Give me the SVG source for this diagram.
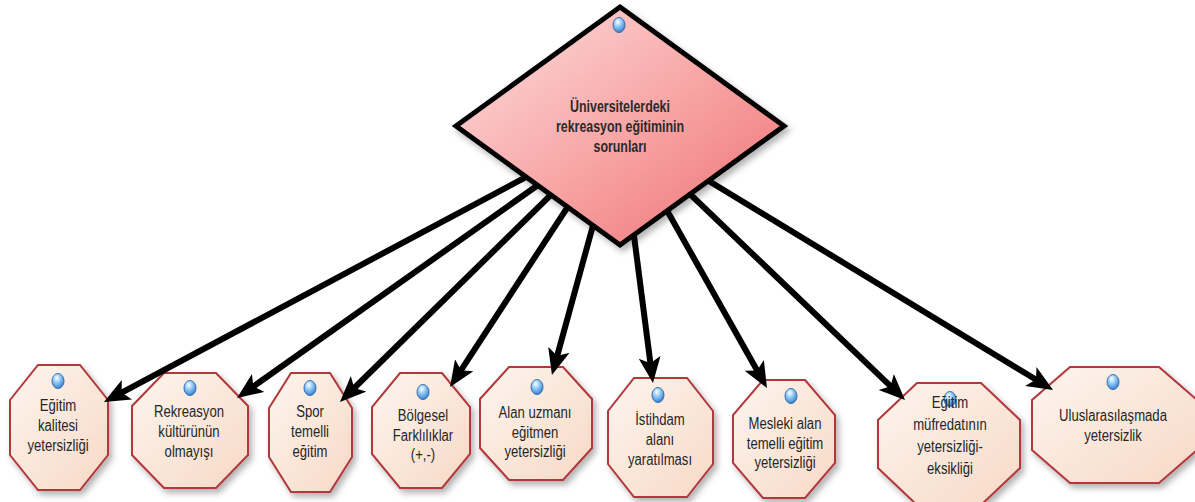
<svg xmlns="http://www.w3.org/2000/svg" width="1195" height="502" viewBox="0 0 1195 502">
<style>
.oct{fill:url(#octFill);stroke:#b2373a;stroke-width:2;filter:url(#shadow)}
.lbl{font-family:"Liberation Sans",Arial,sans-serif;font-size:16px;fill:#262626;text-anchor:middle}
.main{font-weight:bold;fill:#2a2a2a}
.dot{fill:url(#dotFill);stroke:#2c63a8;stroke-width:0.9}
.conn{stroke:#000;stroke-width:6;fill:none;marker-end:url(#arrow)}
</style>
<defs>
<linearGradient id="octFill" x1="0" y1="0" x2="1" y2="1">
<stop offset="0" stop-color="#fdf5ee"/>
<stop offset="1" stop-color="#f7d9c6"/>
</linearGradient>
<linearGradient id="diaFill" x1="0" y1="0" x2="1" y2="1">
<stop offset="0" stop-color="#fde0e0"/>
<stop offset="0.5" stop-color="#f8a8a8"/>
<stop offset="1" stop-color="#ee6e6e"/>
</linearGradient>
<radialGradient id="dotFill" cx="0.4" cy="0.3" r="0.75">
<stop offset="0" stop-color="#ffffff"/>
<stop offset="0.35" stop-color="#9fd3f7"/>
<stop offset="1" stop-color="#2a78d0"/>
</radialGradient>
<filter id="shadow" x="-20%" y="-20%" width="150%" height="150%">
<feDropShadow dx="3" dy="4" stdDeviation="3" flood-color="#000" flood-opacity="0.3"/>
</filter>
<marker id="arrow" markerUnits="userSpaceOnUse" markerWidth="28" markerHeight="24" refX="16" refY="11" orient="auto">
<path d="M0,0 L26,11 L0,22 L6,11 z" fill="#000"/>
</marker>
</defs>

<g id="n1">
<polygon class="oct" points="38,365 80,365 108,400 108,455 80,490 38,490 10,455 10,400"/>
<ellipse class="dot" cx="58" cy="381" rx="6" ry="7.5"/>
<text class="lbl" transform="translate(58 411) scale(0.82 1)">Eğitim</text>
<text class="lbl" transform="translate(58 431) scale(0.82 1)">kalitesi</text>
<text class="lbl" transform="translate(58 451) scale(0.82 1)">yetersizliği</text>
</g>
<g id="n2">
<polygon class="oct" points="164,373 216,373 248,406 248,455 216,488 164,488 132,455 132,406"/>
<ellipse class="dot" cx="190" cy="388" rx="6" ry="7.5"/>
<text class="lbl" transform="translate(189 417) scale(0.82 1)">Rekreasyon</text>
<text class="lbl" transform="translate(189 437) scale(0.82 1)">kültürünün</text>
<text class="lbl" transform="translate(189 457) scale(0.82 1)">olmayışı</text>
</g>
<g id="n3">
<polygon class="oct" points="291,373 330,373 352,408 352,457 330,492 291,492 269,457 269,408"/>
<ellipse class="dot" cx="310" cy="388" rx="6" ry="7.5"/>
<text class="lbl" transform="translate(310 417) scale(0.82 1)">Spor</text>
<text class="lbl" transform="translate(310 437) scale(0.82 1)">temelli</text>
<text class="lbl" transform="translate(310 457) scale(0.82 1)">eğitim</text>
</g>
<g id="n4">
<polygon class="oct" points="400,373 442,373 470,407 470,454 442,488 400,488 372,454 372,407"/>
<ellipse class="dot" cx="423" cy="392" rx="6" ry="7.5"/>
<text class="lbl" transform="translate(423 421) scale(0.82 1)">Bölgesel</text>
<text class="lbl" transform="translate(423 441) scale(0.82 1)">Farklılıklar</text>
<text class="lbl" transform="translate(423 460) scale(0.82 1)">(+,-)</text>
</g>
<g id="n5">
<polygon class="oct" points="509,367 563,367 592,399 592,448 563,480 509,480 480,448 480,399"/>
<ellipse class="dot" cx="537" cy="387" rx="6" ry="7.5"/>
<text class="lbl" transform="translate(535 418) scale(0.82 1)">Alan uzmanı</text>
<text class="lbl" transform="translate(535 438) scale(0.82 1)">eğitmen</text>
<text class="lbl" transform="translate(535 457) scale(0.82 1)">yetersizliği</text>
</g>
<g id="n6">
<polygon class="oct" points="634,378 687,378 713,411 713,464 687,497 634,497 608,464 608,411"/>
<ellipse class="dot" cx="658" cy="395" rx="6" ry="7.5"/>
<text class="lbl" transform="translate(660 425) scale(0.82 1)">İstihdam</text>
<text class="lbl" transform="translate(660 445) scale(0.82 1)">alanı</text>
<text class="lbl" transform="translate(660 465) scale(0.82 1)">yaratılması</text>
</g>
<g id="n7">
<polygon class="oct" points="763,380 805,380 835,415 835,463 805,498 763,498 733,463 733,415"/>
<ellipse class="dot" cx="791" cy="396" rx="6" ry="7.5"/>
<text class="lbl" transform="translate(785 429) scale(0.82 1)">Mesleki alan</text>
<text class="lbl" transform="translate(785 449) scale(0.82 1)">temelli eğitim</text>
<text class="lbl" transform="translate(785 468) scale(0.82 1)">yetersizliği</text>
</g>
<g id="n8">
<polygon class="oct" points="917,383 981,383 1020,420 1020,468 981,505 917,505 878,468 878,420"/>
<ellipse class="dot" cx="950" cy="399" rx="6" ry="7.5"/>
<text class="lbl" transform="translate(950 408) scale(0.82 1)">Eğitim</text>
<text class="lbl" transform="translate(950 430) scale(0.82 1)">müfredatının</text>
<text class="lbl" transform="translate(950 452) scale(0.82 1)">yetersizliği-</text>
<text class="lbl" transform="translate(950 474) scale(0.82 1)">eksikliği</text>
</g>
<g id="n9">
<polygon class="oct" points="1070,367 1159,367 1197,400 1197,450 1159,483 1070,483 1032,450 1032,400"/>
<ellipse class="dot" cx="1113" cy="382" rx="6" ry="7.5"/>
<text class="lbl" transform="translate(1113 421) scale(0.82 1)">Uluslarasılaşmada</text>
<text class="lbl" transform="translate(1113 441) scale(0.82 1)">yetersizlik</text>
</g>

<g id="connectors">
<line class="conn" x1="620" y1="127" x2="112.8" y2="397.3"/>
<line class="conn" x1="620" y1="127" x2="245.2" y2="392.2"/>
<line class="conn" x1="620" y1="127" x2="347.1" y2="395.0"/>
<line class="conn" x1="620" y1="127" x2="455.5" y2="378.6"/>
<line class="conn" x1="620" y1="127" x2="554.6" y2="365.4"/>
<line class="conn" x1="620" y1="127" x2="651.7" y2="373.1"/>
<line class="conn" x1="620" y1="127" x2="762.1" y2="379.3"/>
<line class="conn" x1="620" y1="127" x2="897.8" y2="393.1"/>
<line class="conn" x1="620" y1="127" x2="1044.5" y2="384.8"/>
</g>

<g id="root">
<polygon points="620,7 784,126 620,245 456,126" fill="url(#diaFill)" stroke="#000" stroke-width="5" filter="url(#shadow)"/>
<ellipse class="dot" cx="619" cy="25" rx="6" ry="7.5"/>
<text class="lbl main" transform="translate(620 112) scale(0.775 1)">Üniversitelerdeki</text>
<text class="lbl main" transform="translate(620 132) scale(0.775 1)">rekreasyon eğitiminin</text>
<text class="lbl main" transform="translate(620 152) scale(0.775 1)">sorunları</text>
</g>
</svg>
